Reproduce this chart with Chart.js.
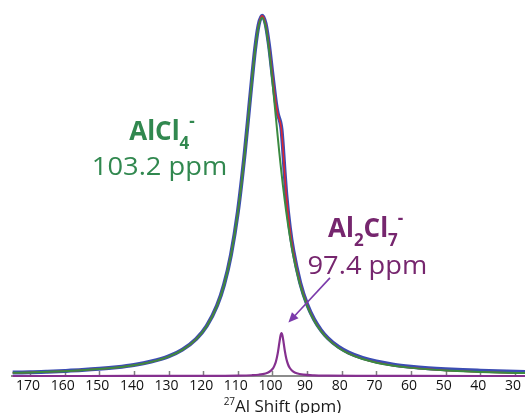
<!DOCTYPE html>
<html>
<head>
<meta charset="utf-8">
<script src="https://cdn.jsdelivr.net/npm/chart.js@4.4.1/dist/chart.umd.min.js"></script>
<style>
  html, body { margin: 0; padding: 0; background: #fff; }
</style>
</head>
<body>
<canvas id="nmr" width="525" height="413"></canvas>
<script>
// 27Al NMR spectrum - AlCl4- / Al2Cl7- deconvolution

// shift axis (ppm) for the broad line, experiment and total fit
const shiftPpm = [175, 170, 165, 160, 155, 150, 145, 140, 135, 130, 126, 122, 119, 116, 114, 112, 110, 108, 106.5, 105,
  104, 103, 102, 101, 100, 99, 98.5, 98, 97.7, 97.4, 97, 96.5, 96, 95, 94, 92, 90, 88, 86, 84,
  81, 78, 74, 70, 65, 60, 55, 50, 45, 40, 35, 27];

// AlCl4- fitted component (green)
const fitAlCl4 = [0.87, 0.98, 1.13, 1.32, 1.56, 1.88, 2.32, 2.94, 3.86, 5.30, 7.13, 10.07, 13.59, 19.18, 24.83, 32.94, 44.64, 60.84, 75.39, 89.20,
  95.57, 97.90, 95.57, 89.20, 80.28, 70.43, 65.56, 60.84, 58.11, 55.49, 52.15, 48.24, 44.64, 38.27, 32.94, 24.83, 19.18, 15.16, 12.24, 10.07,
  7.73, 6.11, 4.64, 3.64, 2.80, 2.22, 1.81, 1.51, 1.28, 1.10, 0.96, 0.79];

// total fit (red)
const fitTotal = [0.87, 0.98, 1.13, 1.32, 1.56, 1.88, 2.32, 2.94, 3.86, 5.30, 7.13, 10.08, 13.61, 19.22, 24.89, 33.02, 44.74, 60.98, 75.57, 89.46,
  95.92, 98.41, 96.26, 90.28, 82.19, 74.41, 71.67, 70.04, 69.06, 67.19, 62.59, 55.50, 49.35, 40.45, 34.14, 25.34, 19.46, 15.33, 12.36, 10.16,
  7.79, 6.15, 4.67, 3.66, 2.81, 2.23, 1.82, 1.51, 1.28, 1.10, 0.96, 0.79];

// experimental spectrum (blue)
const expSpectrum = [0.95, 1.02, 1.18, 1.38, 1.62, 1.95, 2.40, 3.02, 3.95, 5.35, 7.20, 10.15, 13.65, 19.25, 24.90, 33.05, 44.80, 61.05, 75.60, 89.50,
  95.95, 98.45, 96.30, 90.35, 82.30, 74.60, 71.80, 70.20, 69.15, 67.40, 62.80, 55.70, 49.50, 40.60, 34.30, 25.50, 19.60, 15.50, 12.55, 10.35,
  8.00, 6.40, 4.95, 3.95, 3.10, 2.55, 2.15, 1.85, 1.62, 1.45, 1.30, 1.10];

// Al2Cl7- fitted component (purple)
const ppmAl2Cl7 = [175, 140, 120, 110, 106, 104, 102, 101, 100, 99.5, 99, 98.5, 98, 97.7, 97.4, 97.1, 96.8, 96.4, 96, 95.5,
  95, 94, 93, 91, 88, 84, 75, 60, 27];
const fitAl2Cl7 = [0, 0.01, 0.03, 0.10, 0.21, 0.35, 0.69, 1.08, 1.91, 2.70, 3.98, 6.11, 9.20, 10.95, 11.70, 10.95, 9.20, 6.66, 4.71, 3.14,
  2.18, 1.20, 0.75, 0.37, 0.17, 0.09, 0.03, 0.01, 0];

const tickValues = [170, 160, 150, 140, 130, 120, 110, 100, 90, 80, 70, 60, 50, 40, 30];

// label anchors in data coords (ppm, intensity)
const labelAlCl4 = { ppm: 131.9, y: 64.5 };
const labelAlCl4Shift = { ppm: 132.6, y: 54.8 };
const labelAl2Cl7 = { ppm: 73.1, y: 37.9 };
const labelAl2Cl7Shift = { ppm: 72.6, y: 28.0 };
const arrowFrom = { ppm: 83.4, y: 26.8 };
const arrowTo = { ppm: 95.4, y: 14.6 };

const GREEN_TXT = '#31884f';
const PURPLE_TXT = '#76266e';

function pts(xs, ys) {
  return xs.map((x, i) => ({ x: x, y: ys[i] }));
}

function drawRich(ctx, parts, cx, cy, stretch) {
  let w = 0;
  parts.forEach(p => { ctx.font = p.font; p.w = ctx.measureText(p.text).width; w += p.w; });
  ctx.save();
  ctx.translate(cx, cy);
  ctx.scale(stretch, 1);
  ctx.textAlign = 'left';
  ctx.textBaseline = 'alphabetic';
  let x = -w / 2;
  parts.forEach(p => {
    ctx.font = p.font;
    ctx.fillText(p.text, x, p.dy || 0);
    x += p.w;
  });
  ctx.restore();
}

const tickMarks = {
  id: 'tickMarks',
  beforeDatasetsDraw(chart) {
    const { ctx, scales: { x }, chartArea } = chart;
    ctx.save();
    ctx.strokeStyle = '#7f7f7f';
    ctx.lineWidth = 1.5;
    tickValues.forEach(v => {
      const px = Math.round(x.getPixelForValue(v)) + 0.5;
      ctx.beginPath();
      ctx.moveTo(px, chartArea.bottom);
      ctx.lineTo(px, chartArea.bottom - 5);
      ctx.stroke();
    });
    ctx.restore();
  }
};

const annotations = {
  id: 'annotations',
  afterDatasetsDraw(chart) {
    const { ctx, scales: { x, y }, chartArea } = chart;
    const B = 'bold 26px "Open Sans"';
    const S = 'bold 17px "Open Sans"';
    const R = '26px "Open Sans"';

    ctx.save();
    ctx.fillStyle = GREEN_TXT;
    drawRich(ctx, [
      { text: 'AlCl', font: B },
      { text: '4', font: S, dy: 9 },
      { text: '-', font: S, dy: -13 }
    ], x.getPixelForValue(labelAlCl4.ppm), y.getPixelForValue(labelAlCl4.y), 1);
    drawRich(ctx, [{ text: '103.2 ppm', font: R }],
      x.getPixelForValue(labelAlCl4Shift.ppm), y.getPixelForValue(labelAlCl4Shift.y), 1.05);

    ctx.fillStyle = PURPLE_TXT;
    drawRich(ctx, [
      { text: 'Al', font: B },
      { text: '2', font: S, dy: 9 },
      { text: 'Cl', font: B },
      { text: '7', font: S, dy: 9 },
      { text: '-', font: S, dy: -13 }
    ], x.getPixelForValue(labelAl2Cl7.ppm), y.getPixelForValue(labelAl2Cl7.y), 1);
    drawRich(ctx, [{ text: '97.4 ppm', font: R }],
      x.getPixelForValue(labelAl2Cl7Shift.ppm), y.getPixelForValue(labelAl2Cl7Shift.y), 1.05);

    // arrow to the Al2Cl7- peak
    const x0 = x.getPixelForValue(arrowFrom.ppm), y0 = y.getPixelForValue(arrowFrom.y);
    const x1 = x.getPixelForValue(arrowTo.ppm), y1 = y.getPixelForValue(arrowTo.y);
    const ang = Math.atan2(y1 - y0, x1 - x0);
    const hl = 10, hw = 4.5;
    ctx.strokeStyle = '#7b3aab';
    ctx.fillStyle = '#7b3aab';
    ctx.lineWidth = 1.6;
    ctx.beginPath();
    ctx.moveTo(x0, y0);
    ctx.lineTo(x1 - Math.cos(ang) * hl * 0.8, y1 - Math.sin(ang) * hl * 0.8);
    ctx.stroke();
    ctx.beginPath();
    ctx.moveTo(x1, y1);
    ctx.lineTo(x1 - Math.cos(ang) * hl - Math.sin(ang) * hw, y1 - Math.sin(ang) * hl + Math.cos(ang) * hw);
    ctx.lineTo(x1 - Math.cos(ang) * hl + Math.sin(ang) * hw, y1 - Math.sin(ang) * hl - Math.cos(ang) * hw);
    ctx.closePath();
    ctx.fill();

    // axis title with superscript mass number
    ctx.fillStyle = '#1a1a1a';
    drawRich(ctx, [
      { text: '27', font: '10px "Open Sans"', dy: -7 },
      { text: 'Al Shift (ppm)', font: '17px "Open Sans"' }
    ], (chartArea.left + chartArea.right) / 2 + 14, chart.height - 1, 1.0);
    ctx.restore();
  }
};

new Chart(document.getElementById('nmr'), {
  type: 'line',
  data: {
    datasets: [
      {
        label: 'Al2Cl7- fit',
        data: pts(ppmAl2Cl7, fitAl2Cl7),
        borderColor: '#85308f',
        borderWidth: 2.2,
        clip: false
      },
      {
        label: 'AlCl4- fit',
        data: pts(shiftPpm, fitAlCl4),
        borderColor: '#3b8a40',
        borderWidth: 2
      },
      {
        label: 'Total fit',
        data: pts(shiftPpm, fitTotal),
        borderColor: '#e0252d',
        borderWidth: 1.5
      },
      {
        label: 'Experiment',
        data: pts(shiftPpm, expSpectrum),
        borderColor: '#3c4db3',
        borderWidth: 4
      }
    ]
  },
  options: {
    responsive: false,
    animation: false,
    events: [],
    elements: {
      point: { radius: 0 },
      line: { cubicInterpolationMode: 'monotone', fill: false }
    },
    layout: { padding: { left: 12, top: 10, right: 0, bottom: 0 } },
    plugins: { legend: { display: false }, tooltip: { enabled: false } },
    scales: {
      x: {
        type: 'linear',
        reverse: true,
        min: 27.1,
        max: 175.2,
        afterBuildTicks: s => { s.ticks = tickValues.map(v => ({ value: v })); },
        afterFit: s => { s.paddingLeft = 0; s.paddingRight = 0; s.height = 37; },
        grid: { display: false, drawTicks: false },
        border: { display: true, color: '#8c8c8c', width: 2 },
        ticks: {
          font: { family: 'Open Sans', size: 14 },
          color: '#111111',
          padding: 2,
          labelOffset: -2,
          maxRotation: 0,
          autoSkip: false,
          callback: v => String(v)
        }
      },
      y: { display: false, min: 0, max: 100 }
    }
  },
  plugins: [tickMarks, annotations]
});
</script>
</body>
</html>
